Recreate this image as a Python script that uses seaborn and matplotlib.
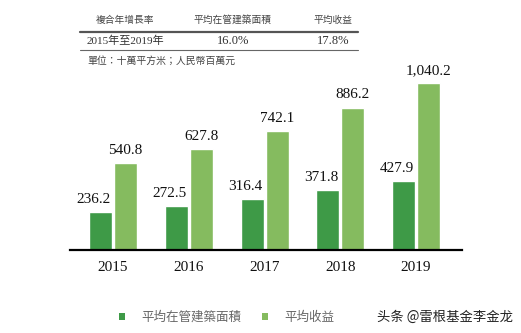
import matplotlib
matplotlib.use("Agg")
import matplotlib.pyplot as plt
from matplotlib.lines import Line2D
from matplotlib.patches import Patch
import seaborn as sns
import pandas as pd

years = ["2015", "2016", "2017", "2018", "2019"]
area = [236.2, 272.5, 316.4, 371.8, 427.9]
revenue = [540.8, 627.8, 742.1, 886.2, 1040.2]
series_names = ["平均在管建築面積", "平均收益"]
colors = ["#3e9a47", "#85bb5f"]

table_header = ["複合年增長率", "平均在管建築面積", "平均收益"]
table_row = ["2015年至2019年", "16.0%", "17.8%"]
unit_note = "單位：十萬平方米；人民幣百萬元"
watermark = "头条 @雷根基金李金龙"

df = pd.DataFrame({
    "year": years * 2,
    "value": area + revenue,
    "series": [series_names[0]] * len(years) + [series_names[1]] * len(years),
})

sns.set_theme(style="white")
plt.rcParams["font.family"] = ["Liberation Serif", "Noto Sans CJK TC", "DejaVu Sans"]

W, H = 521, 333
fig = plt.figure(figsize=(W / 100, H / 100), dpi=100)
ax = fig.add_axes([70 / W, (H - 250) / H, 392 / W, 175 / H])

sns.barplot(data=df, x="year", y="value", hue="series", palette=colors,
            width=0.66, gap=0.08, saturation=1, ax=ax, legend=False)

ax.set_xlim(-0.568, 4.607)
ax.set_ylim(0, 1090)
ax.set_xlabel("")
ax.set_ylabel("")
ax.set_yticks([])
for s in ["top", "right", "left"]:
    ax.spines[s].set_visible(False)
ax.spines["bottom"].set_color("black")
ax.spines["bottom"].set_linewidth(1.6)
ax.tick_params(axis="x", length=0, pad=8, labelsize=11, labelcolor="#111111")
for t in ax.get_xticklabels():
    t.set_fontfamily("Liberation Serif")

offsets = [-5, 0]
for ci, cont in enumerate(ax.containers):
    for bar in cont:
        h = bar.get_height()
        ax.annotate(f"{h:,.1f}", (bar.get_x() + bar.get_width() / 2, h),
                    xytext=(offsets[ci], 4.5), textcoords="offset points",
                    ha="center", va="bottom", fontsize=11,
                    family="Liberation Serif", color="#111111")

handles = [Patch(facecolor=c, edgecolor="none") for c in colors]
fig.legend(handles, series_names, loc="center left", bbox_to_anchor=(119 / W, (H - 317) / H),
           ncol=2, frameon=False, handlelength=0.5, handleheight=0.5,
           handletextpad=1.3, columnspacing=1.6, borderaxespad=0, borderpad=0,
           prop={"family": ["Noto Sans CJK TC"], "size": 9},
           labelcolor="#666666")

fig.text(377 / W, (H - 317) / H, watermark, ha="left", va="center",
         fontsize=9.6, family=["Noto Sans CJK SC"], color="#222222")

# table above chart
fig.add_artist(Line2D([80 / W, 358 / W], [(H - 32) / H] * 2, transform=fig.transFigure,
                      color="#555555", linewidth=1.6))
fig.add_artist(Line2D([80 / W, 358 / W], [(H - 50) / H] * 2, transform=fig.transFigure,
                      color="#666666", linewidth=0.8))
col_x = [125, 233, 333]
for x, txt in zip(col_x, table_header):
    fig.text(x / W, (H - 20) / H, txt, ha="center", va="center", fontsize=7,
             color="#444444")
fig.text(87 / W, (H - 41) / H, table_row[0], ha="left", va="center", fontsize=8,
         color="#333333")
for x, txt in zip(col_x[1:], table_row[1:]):
    fig.text(x / W, (H - 41) / H, txt, ha="center", va="center", fontsize=9,
             color="#333333")
fig.text(87 / W, (H - 61) / H, unit_note, ha="left", va="center", fontsize=7.1,
         color="#444444")

fig.savefig("out.png", dpi=100)
